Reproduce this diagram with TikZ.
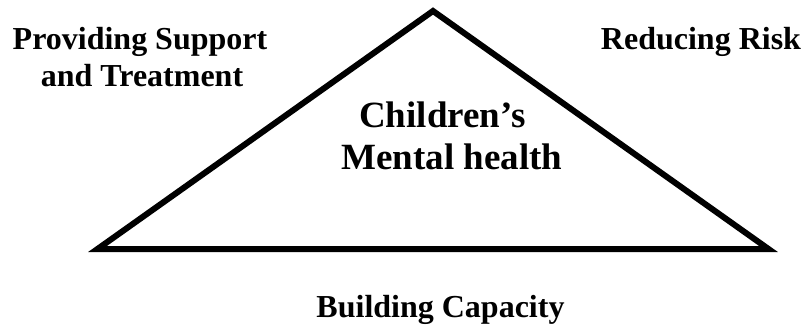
\documentclass[tikz,border=0pt]{standalone}
\usepackage{fontspec}
\setmainfont{Liberation Serif}
\begin{document}
\begin{tikzpicture}[x=1pt,y=-1pt,
  label/.style={font=\bfseries\fontsize{32}{37}\selectfont, inner sep=0pt, anchor=base},
  title/.style={font=\bfseries\fontsize{37}{43}\selectfont, inner sep=0pt, anchor=base},
  edge/.style={line width=6pt, line join=miter}]
\useasboundingbox (0,0) rectangle (804,326);
% the triangle
\coordinate (apex) at (433,11);
\coordinate (bl) at (97.5,249);
\coordinate (br) at (768.5,249);
\draw[edge] (apex) -- (br) -- (bl) -- cycle;
% labels around the triangle
\node[label] (support) at (140,50) {Providing Support};
\node[label] (treatment) at (142,87) {and Treatment};
\node[label] (risk) at (701,50) {Reducing Risk};
\node[label] (capacity) at (440.5,317) {Building Capacity};
% title inside
\node[title] (children) at (442.5,128) {Children's};
\node[title] (mental) at (452,170) {Mental health};
\end{tikzpicture}
\end{document}
